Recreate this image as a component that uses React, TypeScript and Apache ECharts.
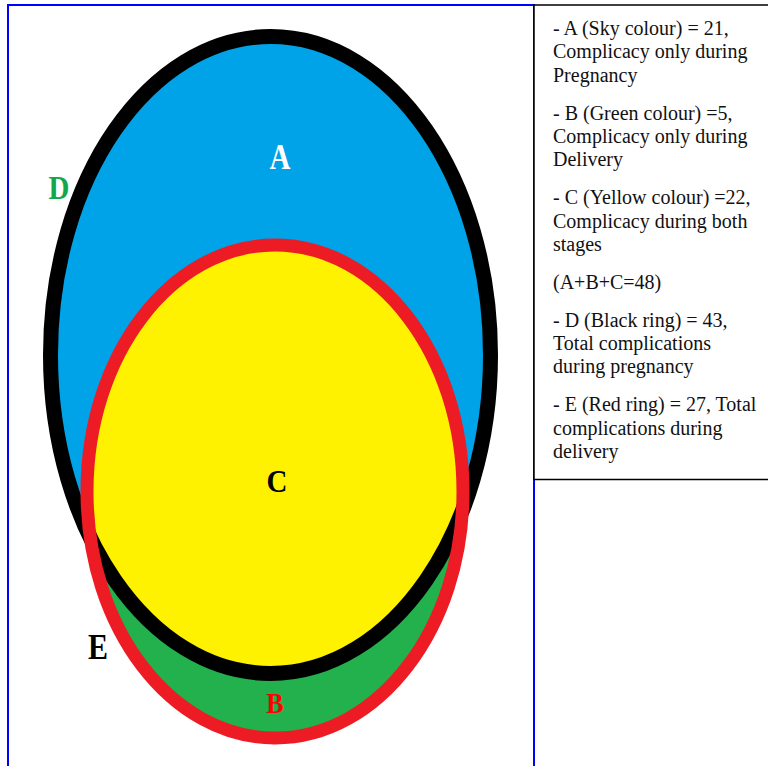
import React, { useEffect, useRef } from 'react';
import * as echarts from 'echarts';

// ---- data ----
const regionNames = ['A', 'B', 'C', 'D', 'E'];
const regionValues = [21, 5, 22, 43, 27];
const colourNames = ['Sky colour', 'Green colour', 'Yellow colour', 'Black ring', 'Red ring'];

const [vA, vB, vC, vD, vE] = regionValues;
const legendParagraphs: string[][] = [
  [`- ${regionNames[0]} (${colourNames[0]}) = ${vA},`, 'Complicacy only during', 'Pregnancy'],
  [`- ${regionNames[1]} (${colourNames[1]}) =${vB},`, 'Complicacy only during', 'Delivery'],
  [`- ${regionNames[2]} (${colourNames[2]}) =${vC},`, 'Complicacy during both', 'stages'],
  [`(A+B+C=${vA + vB + vC})`],
  [`- ${regionNames[3]} (${colourNames[3]}) = ${vD},`, 'Total complications', 'during pregnancy'],
  [`- ${regionNames[4]} (${colourNames[4]}) = ${vE}, Total`, 'complications during', 'delivery'],
];

// ---- layout / styling ----
const SKY = '#00A2E8';
const GREEN = '#22B14C';
const YELLOW = '#FFF200';
const RED = '#ED1C24';
const BLACK = '#000000';

const ellD = { cx: 270.5, cy: 355, rx: 220, ry: 318.5 };
const ellE = { cx: 275, cy: 491.5, rx: 188, ry: 246.5 };

type Ell = { cx: number; cy: number; rx: number; ry: number };

function rayDist(e: Ell, px: number, py: number, c: number, s: number) {
  const a = (c / e.rx) ** 2 + (s / e.ry) ** 2;
  const b = 2 * (((px - e.cx) * c) / e.rx ** 2 + ((py - e.cy) * s) / e.ry ** 2);
  const k = ((px - e.cx) / e.rx) ** 2 + ((py - e.cy) / e.ry) ** 2 - 1;
  return (-b + Math.sqrt(b * b - 4 * a * k)) / (2 * a);
}

function intersectionPoints(e1: Ell, e2: Ell) {
  const px = (e1.cx + e2.cx) / 2;
  const py = 500;
  const pts: number[][] = [];
  const N = 1440;
  for (let i = 0; i < N; i++) {
    const t = (i / N) * Math.PI * 2;
    const c = Math.cos(t);
    const s = Math.sin(t);
    const r = Math.min(rayDist(e1, px, py, c, s), rayDist(e2, px, py, c, s));
    pts.push([px + r * c, py + r * s]);
  }
  return pts;
}

const LETTER_FONT = '"Liberation Serif", "Times New Roman", serif';

export default function App() {
  const ref = useRef<HTMLDivElement>(null);
  useEffect(() => {
    if (!ref.current) return;
    const chart = echarts.init(ref.current, undefined, { renderer: 'svg' });

    const letter = (text: string, x: number, y: number, fill: string, size: number, sy: number) => ({
      type: 'text',
      x,
      y,
      scaleY: sy,
      z: 20,
      style: {
        text,
        fill,
        fontSize: size,
        fontWeight: 'bold',
        fontFamily: LETTER_FONT,
        align: 'center',
        verticalAlign: 'middle',
      },
    });

    const legendTexts: any[] = [];
    let top = 16.3;
    const LH = 23.4;
    legendParagraphs.forEach((lines) => {
      legendTexts.push({
        type: 'text',
        x: 553,
        y: top,
        z: 30,
        style: {
          text: lines.join('\n'),
          fill: '#111',
          fontSize: 20,
          fontFamily: LETTER_FONT,
          lineHeight: LH,
          align: 'left',
          verticalAlign: 'top',
        },
      });
      top += lines.length * LH + 14.4;
    });

    chart.setOption({
      animation: false,
      backgroundColor: '#ffffff',
      graphic: [
        { type: 'rect', z: 1, shape: { x: 8, y: 5, width: 526, height: 800 }, style: { fill: '#fff', stroke: '#0000FF', lineWidth: 2 } },
        { type: 'ellipse', z: 2, shape: ellD, style: { fill: SKY } },
        { type: 'ellipse', z: 3, shape: ellE, style: { fill: GREEN } },
        { type: 'polygon', z: 4, shape: { points: intersectionPoints(ellD, ellE) }, style: { fill: YELLOW } },
        { type: 'ellipse', z: 5, shape: ellD, style: { fill: 'none', stroke: BLACK, lineWidth: 15 } },
        { type: 'ellipse', z: 6, shape: ellE, style: { fill: 'none', stroke: RED, lineWidth: 13 } },
        letter(regionNames[0], 280, 157, '#ffffff', 29, 1.2),
        letter(regionNames[2], 277, 481, '#000000', 29, 1.12),
        letter(regionNames[1], 275, 703, '#FF0000', 26, 1.15),
        letter(regionNames[3], 59, 188, '#12A84A', 29, 1.15),
        letter(regionNames[4], 98, 647, '#000000', 30, 1.2),
        { type: 'rect', z: 25, shape: { x: 534, y: 5, width: 260, height: 474.5 }, style: { fill: '#fff', stroke: '#000', lineWidth: 1.5 } },
        ...legendTexts,
      ],
    });
    return () => chart.dispose();
  }, []);

  return (
    <div
      ref={ref}
      style={{ position: 'absolute', left: 0, top: 0, width: 768, height: 766 }}
    />
  );
}
